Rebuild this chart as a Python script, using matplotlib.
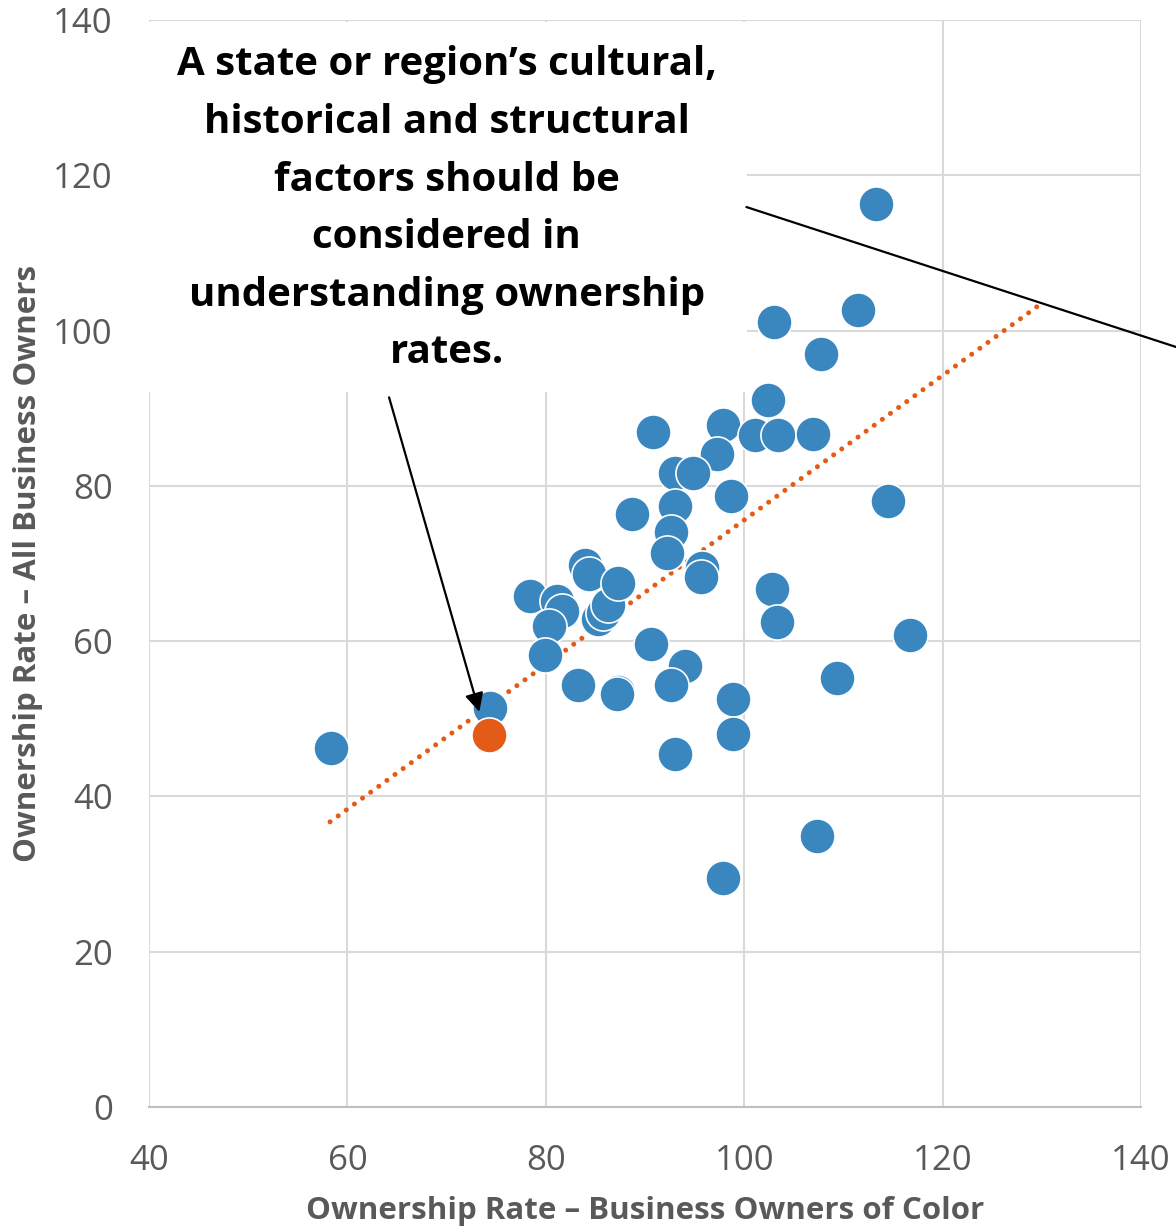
import numpy as np
import matplotlib
matplotlib.use("Agg")
import matplotlib.pyplot as plt
from matplotlib import font_manager
from matplotlib.patches import Rectangle

# Ownership rates by state / region (index values)
rate_owners_of_color = [
    113.3, 111.5, 103.0, 107.7, 102.4, 90.8, 97.9, 101.1, 103.4, 106.9,
    97.3, 93.0, 94.8, 98.7, 114.5, 88.7, 93.0, 92.6, 92.2, 84.0,
    84.4, 95.7, 95.6, 78.4, 81.1, 81.6, 80.3, 85.3, 85.8, 86.3,
    87.3, 102.8, 103.3, 116.7, 79.9, 90.6, 94.0, 83.2, 87.3, 87.2,
    92.6, 109.4, 98.9, 98.9, 74.4, 93.0, 58.3, 107.3, 97.9,
]
rate_all_owners = [
    116.3, 102.7, 101.1, 97.0, 91.0, 87.0, 87.8, 86.6, 86.6, 86.7,
    84.1, 81.6, 81.7, 78.7, 78.0, 76.4, 77.4, 74.1, 71.4, 69.8,
    68.7, 69.4, 68.3, 65.8, 65.2, 63.9, 62.0, 62.9, 63.6, 64.7,
    67.5, 66.7, 62.5, 60.8, 58.2, 59.6, 56.8, 54.3, 53.5, 53.2,
    54.3, 55.3, 52.6, 48.1, 51.4, 45.5, 46.3, 34.9, 29.5,
]
highlight_x = [74.3]
highlight_y = [47.9]

# Trendline (slope, intercept) and its drawn x-range
trend_slope = 0.931
trend_intercept = -17.5
trend_x_range = [58.25, 130.3]

x_ticks = [40, 60, 80, 100, 120, 140]
y_ticks = [0, 20, 40, 60, 80, 100, 120, 140]

x_label = "Ownership Rate \u2013 Business Owners of Color"
y_label = "Ownership Rate \u2013 All Business Owners"
note = ("A state or region\u2019s cultural,\nhistorical and structural\n"
        "factors should be\nconsidered in\nunderstanding ownership\nrates.")

BLUE = "#3A87BF"
ORANGE = "#E35B17"
GREY_TEXT = "#595959"
GRID = "#D9D9D9"


def pick_font(candidates):
    names = {f.name for f in font_manager.fontManager.ttflist}
    for c in candidates:
        if c in names:
            return c
    return "DejaVu Sans"


FONT = pick_font(["Open Sans", "Lato", "DejaVu Sans"])
plt.rcParams["font.family"] = [FONT, "DejaVu Sans"]

fig = plt.figure(figsize=(11.76, 12.29), dpi=100)
W, H = 1176, 1229
ax = fig.add_axes([149 / W, (H - 1107) / H, (1141 - 149) / W, (1107 - 20) / H])

ax.set_xlim(40, 140)
ax.set_ylim(0, 140)
ax.set_xticks(x_ticks)
ax.set_yticks(y_ticks)
ax.grid(True, color=GRID, linewidth=1.5, zorder=0)
ax.set_axisbelow(True)
for side in ("top", "right", "left"):
    ax.spines[side].set_visible(False)
ax.spines["bottom"].set_color("#BFBFBF")
ax.spines["bottom"].set_linewidth(1.5)
ax.tick_params(length=0, labelsize=25, labelcolor=GREY_TEXT)
ax.tick_params(axis="x", pad=27)
ax.tick_params(axis="y", pad=26)

ax.set_xlabel(x_label, fontsize=22.5, fontweight="bold", color=GREY_TEXT, va="center")
ax.set_ylabel(y_label, fontsize=22.5, fontweight="bold", color=GREY_TEXT, va="center")
ax.xaxis.set_label_coords(0.5, (1107 - 1211) / 1087)
ax.yaxis.set_label_coords((28 - 149) / 992, 0.5)

# Trendline
trend_x = np.array(trend_x_range)
ax.plot(trend_x, trend_slope * trend_x + trend_intercept, color=ORANGE,
        linewidth=3.6, linestyle=(0, (0.01, 2.0)), dash_capstyle="round", zorder=2)

ax.scatter(rate_owners_of_color, rate_all_owners, s=640, color=BLUE,
           edgecolors="white", linewidths=1.2, zorder=3)
ax.scatter(highlight_x, highlight_y, s=640, color=ORANGE,
           edgecolors="white", linewidths=1.2, zorder=4)

# Callout box with note
ax.add_patch(Rectangle((39.8, 92.1), 100.3 - 39.8, 139.7 - 92.1,
                       facecolor="white", edgecolor="none", zorder=5, clip_on=False))
ax.text(70.0, 115.66, note, ha="center", va="center", fontsize=29,
        fontweight="bold", color="black", linespacing=1.62, zorder=6)

# Connector leaving the box to the right
ax.plot([100.25, 143.5], [115.9, 97.9], color="black", linewidth=1.6,
        clip_on=False, zorder=6)

# Arrow to the highlighted state
ax.annotate("", xy=(73.3, 50.9), xytext=(64.2, 91.4),
            arrowprops=dict(arrowstyle="-|>", color="black", linewidth=1.6,
                            mutation_scale=28, shrinkA=0, shrinkB=0),
            zorder=7)

fig.savefig("out.png", dpi=100)
